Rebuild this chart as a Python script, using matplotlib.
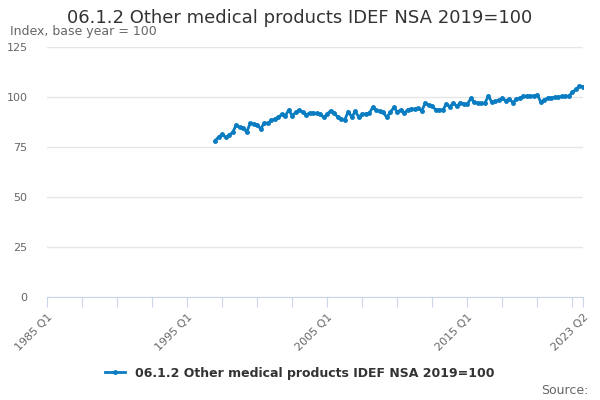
import matplotlib
matplotlib.use("Agg")
import matplotlib.pyplot as plt

# quarterly index values, 1997 Q1 to 2023 Q2
start_year = 1997
values = [
    78.2, 80.0, 81.3, 79.8,   # 1997
    81.0, 82.3, 86.0, 84.8,   # 1998
    84.5, 82.5, 86.8, 86.5,   # 1999
    86.2, 84.0, 87.0, 86.8,   # 2000
    88.3, 89.0, 89.8, 91.3,   # 2001
    90.5, 93.5, 90.7, 92.3,   # 2002
    93.5, 92.5, 91.2, 92.0,   # 2003
    92.0, 91.8, 91.5, 89.8,   # 2004
    91.5, 93.2, 91.8, 90.0,   # 2005
    88.8, 88.6, 92.7, 90.0,   # 2006
    92.8, 90.0, 91.5, 91.5,   # 2007
    92.0, 94.8, 93.3, 92.8,   # 2008
    92.3, 89.8, 92.3, 94.8,   # 2009
    92.5, 93.5, 92.0, 93.7,   # 2010
    94.0, 94.0, 94.3, 93.2,   # 2011
    97.0, 95.8, 95.5, 93.5,   # 2012
    93.7, 93.5, 96.5, 95.2,   # 2013
    97.0, 95.3, 97.2, 96.5,   # 2014
    96.5, 99.3, 97.3, 97.0,   # 2015
    96.8, 97.0, 100.5, 97.3,  # 2016
    97.8, 98.5, 99.3, 98.2,   # 2017
    99.0, 97.2, 99.0, 99.5,   # 2018
    100.3, 100.5, 100.5, 100.5,  # 2019
    101.0, 97.3, 98.7, 99.5,  # 2020
    99.6, 99.8, 100.0, 100.3,  # 2021
    100.3, 100.5, 102.5, 103.8,  # 2022
    105.6, 105.2,             # 2023
]
series_name = "06.1.2 Other medical products IDEF NSA 2019=100"
tick_labels = {0: "1985 Q1", 40: "1995 Q1", 80: "2005 Q1", 120: "2015 Q1", 153: "2023 Q2"}

# quarter number counted from 1985 Q1
offset = (start_year - 1985) * 4
x = [offset + i for i in range(len(values))]

blue = "#0a7cc1"
grey = "#666666"

fig = plt.figure(figsize=(6, 4), dpi=100)
ax = fig.add_axes([47 / 600, 103 / 400, 536 / 600, 250 / 400])

ax.plot(x, values, color=blue, linewidth=2, marker="o", markersize=2.5, label=series_name)

ax.set_xlim(0, 153)
ax.set_ylim(0, 125)
ax.set_yticks([0, 25, 50, 75, 100, 125])
ax.grid(axis="y", color="#e6e6e6", linewidth=1)
ax.set_axisbelow(True)

ticks = list(range(0, 151, 10)) + [153]
ax.set_xticks(ticks)
ax.set_xticklabels([tick_labels.get(t, "") for t in ticks], rotation=45, ha="right",
                   rotation_mode="anchor", fontsize=8, color=grey)
ax.tick_params(axis="x", length=7, color="#ccd6eb", pad=4)
ax.tick_params(axis="y", length=0, labelsize=8, labelcolor=grey, pad=14)

for side in ["top", "right", "left"]:
    ax.spines[side].set_visible(False)
ax.spines["bottom"].set_color("#ccd6eb")

fig.text(0.5, 0.955, series_name, ha="center", va="center", fontsize=13, color="#333333")
fig.text(10 / 600, 0.92, "Index, base year = 100", ha="left", va="center", fontsize=9, color=grey)
fig.text(588 / 600, 0.025, "Source:", ha="right", va="center", fontsize=9, color=grey)

leg = fig.legend(loc="center", bbox_to_anchor=(0.5, 27 / 400), frameon=False,
                 handlelength=1.6, prop={"weight": "bold", "size": 9})
for t in leg.get_texts():
    t.set_color("#333333")

fig.savefig("out.png", dpi=100)
